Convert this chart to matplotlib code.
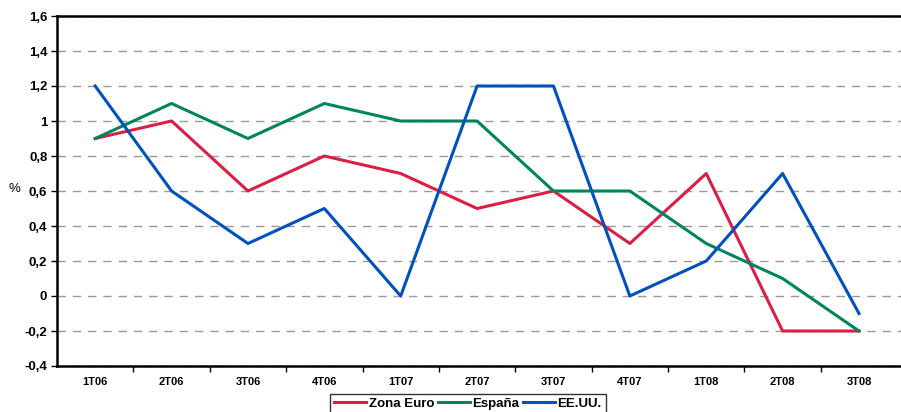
import numpy as np
import matplotlib.pyplot as plt
from matplotlib.ticker import FixedLocator, FuncFormatter

plt.rcParams['font.family'] = ['Liberation Sans', 'DejaVu Sans']
plt.rcParams['font.weight'] = 'bold'

# datos
trimestres = ['1T06', '2T06', '3T06', '4T06', '1T07', '2T07', '3T07', '4T07', '1T08', '2T08', '3T08']
zona_euro = [0.9, 1.0, 0.6, 0.8, 0.7, 0.5, 0.6, 0.3, 0.7, -0.2, -0.2]
espana = [0.9, 1.1, 0.9, 1.1, 1.0, 1.0, 0.6, 0.6, 0.3, 0.1, -0.2]
eeuu = [1.2, 0.6, 0.3, 0.5, 0.0, 1.2, 1.2, 0.0, 0.2, 0.7, -0.1]

fig = plt.figure(figsize=(9.01, 4.12), dpi=100)
ax = fig.add_axes([57 / 901, 1 - 366 / 412, 844 / 901, 350 / 412])

x = np.arange(len(trimestres))
ax.plot(x, zona_euro, color='#DC1E44', lw=2.2, label='Zona Euro')
ax.plot(x, espana, color='#00845C', lw=2.2, label='España')
ax.plot(x, eeuu, color='#0050BE', lw=2.2, label='EE.UU.')

ax.set_xlim(-0.5, 10.55)
ax.set_ylim(-0.4, 1.6)
ax.set_yticks(np.arange(-0.4, 1.61, 0.2))
ax.yaxis.set_major_formatter(FuncFormatter(lambda v, p: ('%g' % round(v, 1)).replace('.', ',')))
ax.set_xticks(x)
ax.set_xticklabels(trimestres)
ax.xaxis.set_minor_locator(FixedLocator(np.arange(0.5, 10, 1)))
ax.tick_params(axis='x', which='major', length=0, pad=8, labelsize=8)
ax.tick_params(axis='x', which='minor', length=4, width=1, direction='out')
ax.tick_params(axis='y', length=4, width=1, labelsize=9.5, pad=3)

ax.grid(axis='y', color='#999999', ls=(0, (6, 5)), lw=1)
for s in ['left', 'top', 'bottom']:
    ax.spines[s].set_linewidth(1.8)
ax.spines['right'].set_visible(False)

ax.set_ylabel('%', rotation=0, fontsize=9.5)
ax.yaxis.set_label_coords(-0.05, 0.49)

leg = ax.legend(loc='upper center', bbox_to_anchor=(0.487, -0.06), ncol=3, frameon=True,
                fancybox=False, edgecolor='black', fontsize=9.5, handlelength=2.4,
                handletextpad=0.2, columnspacing=0.3, borderpad=0.3)
leg.get_frame().set_linewidth(1)

fig.savefig('out.png', dpi=100)
